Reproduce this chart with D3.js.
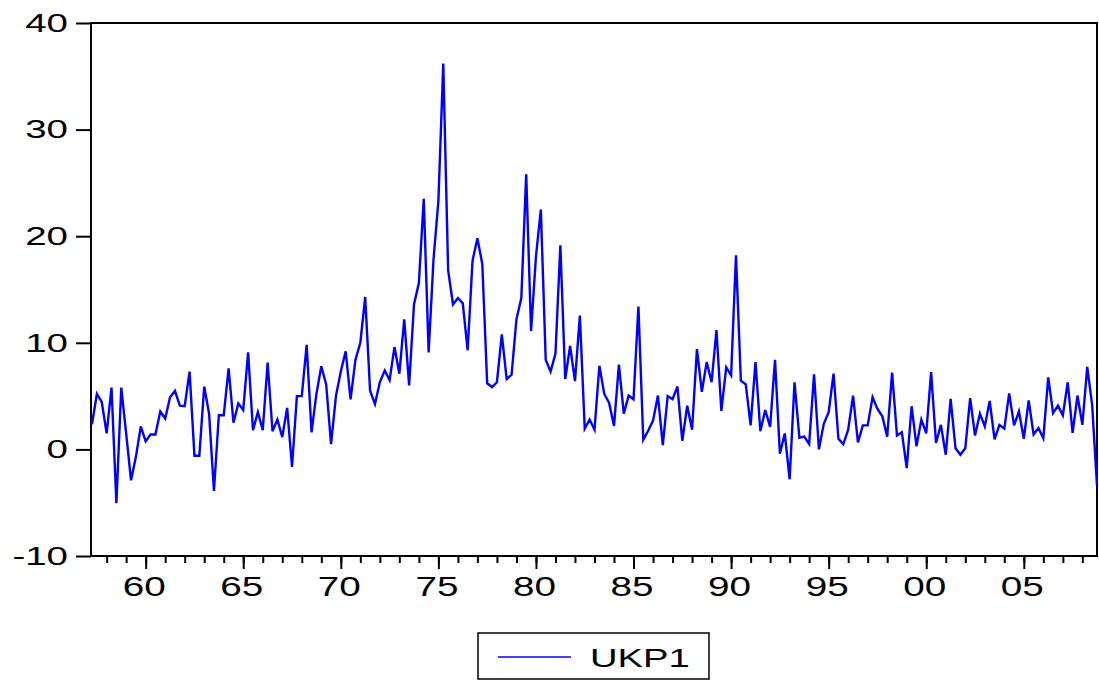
<!DOCTYPE html>
<html>
<head>
<meta charset="utf-8">
<script src="https://cdn.jsdelivr.net/npm/d3@7"></script>
<style>
    body { margin: 0; background: #fff; }
    svg text { font-family: "Liberation Sans", Arial, sans-serif; fill: #000; }
</style>
</head>
<body>
<div id="graph"></div>
<script>
// quarterly series, first observation 1957Q2
let seriesName = "UKP1";
let firstYear = 1957;
let firstQuarter = 2;

let ukp1 = [
    2.35, 5.2, 4.45, 1.5, 5.8, -5.05, 5.8, 1.5, -2.9, -0.7,
    2.15, 0.75, 1.4, 1.4, 3.55, 2.9, 4.9, 5.5, 4.1, 4.05,
    7.3, -0.6, -0.6, 5.9, 3.35, -3.9, 3.2, 3.2, 7.6, 2.5,
    4.3, 3.7, 9.1, 1.8, 3.5, 1.8, 8.15, 1.7, 2.8, 1.15,
    3.9, -1.65, 5.0, 5.0, 9.8, 1.6, 5.2, 7.8, 6.1, 0.5,
    5.0, 7.3, 9.2, 4.7, 8.4, 10.0, 14.3, 5.5, 4.25, 6.3,
    7.4, 6.5, 9.6, 7.1, 12.2, 6.0, 13.6, 15.6, 23.5, 9.1,
    17.8, 23.3, 36.2, 16.8, 13.6, 14.2, 13.7, 9.3, 17.7, 19.8,
    17.4, 6.2, 5.85, 6.3, 10.8, 6.6, 7.0, 12.2, 14.2, 25.8,
    11.1, 18.1, 22.5, 8.4, 7.3, 9.0, 19.15, 6.6, 9.7, 6.4,
    12.55, 1.95, 2.8, 1.85, 7.85, 5.2, 4.35, 2.2, 7.95, 3.35,
    5.05, 4.7, 13.4, 0.9, 1.75, 2.7, 5.05, 0.4, 5.0, 4.7,
    5.9, 0.8, 4.1, 1.85, 9.4, 5.4, 8.2, 6.3, 11.2, 3.6,
    7.7, 6.95, 18.2, 6.45, 6.1, 2.25, 8.2, 1.7, 3.7, 2.1,
    8.4, -0.4, 1.5, -2.8, 6.3, 1.1, 1.2, 0.5, 7.05, 0.0,
    2.4, 3.5, 7.1, 1.0, 0.5, 1.85, 5.05, 0.65, 2.25, 2.25,
    4.9, 3.8, 3.1, 1.2, 7.2, 1.3, 1.6, -1.75, 4.05, 0.3,
    2.8, 1.5, 7.25, 0.6, 2.3, -0.5, 4.75, 0.1, -0.5, 0.1,
    4.8, 1.3, 3.35, 2.15, 4.55, 0.95, 2.3, 1.95, 5.25, 2.25,
    3.55, 1.0, 4.6, 1.4, 2.0, 1.05, 6.75, 3.4, 4.1, 3.2,
    6.3, 1.55, 5.05, 2.3, 7.75, 4.2, -3.4
];

let yTickValues = [-10, 0, 10, 20, 30, 40];
let yTickLabels = ["-10", "0", "10", "20", "30", "40"];
let xTickYears = [1960, 1965, 1970, 1975, 1980, 1985, 1990, 1995, 2000, 2005];
let xTickLabels = ["60", "65", "70", "75", "80", "85", "90", "95", "00", "05"];

function drawGraph() {
    let svg = d3.select("#graph").append("svg")
        .attr("width", 1099)
        .attr("height", 682);

    let frame = {left: 91, right: 1097, top: 23, bottom: 556};

    let data = ukp1.map((v, i) => ({x: firstYear + (firstQuarter - 1 + i) / 4, y: v}));

    let x_scale = d3.scaleLinear()
        .domain(d3.extent(data, d => d.x))
        .range([92, frame.right]);

    let y_scale = d3.scaleLinear()
        .domain([-10, 40])
        .range([frame.bottom, frame.top]);

    // yearly minor ticks
    let minorYears = d3.range(Math.ceil(x_scale.domain()[0]), Math.floor(x_scale.domain()[1]) + 1);
    svg.append("g")
        .attr("transform", `translate(0,${frame.bottom})`)
        .call(d3.axisBottom(x_scale).tickValues(minorYears).tickSize(7).tickFormat(""));

    let majorAxis = svg.append("g")
        .attr("transform", `translate(0,${frame.bottom})`)
        .call(d3.axisBottom(x_scale)
            .tickValues(xTickYears)
            .tickSize(13)
            .tickPadding(7)
            .tickFormat((d, i) => xTickLabels[i]));
    majorAxis.selectAll("text")
        .attr("font-size", 28)
        .attr("transform", "translate(-2,0) scale(1.38,1)");

    let yAxis = svg.append("g")
        .attr("transform", `translate(${frame.left},0)`)
        .call(d3.axisLeft(y_scale)
            .tickValues(yTickValues)
            .tickSize(15)
            .tickFormat((d, i) => yTickLabels[i]));
    yAxis.selectAll("text")
        .attr("font-size", 26)
        .attr("x", -23 / 1.48)
        .attr("transform", "scale(1.48,1)");

    svg.selectAll(".domain").remove();
    svg.selectAll(".tick line")
        .attr("stroke", "#000")
        .attr("stroke-width", 2);

    svg.append("rect")
        .attr("x", frame.left)
        .attr("y", frame.top)
        .attr("width", frame.right - frame.left)
        .attr("height", frame.bottom - frame.top)
        .attr("fill", "none")
        .attr("stroke", "#000")
        .attr("stroke-width", 2);

    let valueLine = d3.line()
        .x(d => x_scale(d.x))
        .y(d => y_scale(d.y));

    svg.append("path")
        .datum(data)
        .attr("fill", "none")
        .attr("stroke", "#0000ff")
        .attr("stroke-width", 2.4)
        .attr("d", valueLine);

    // legend
    let legend = svg.append("g");
    legend.append("rect")
        .attr("x", 478)
        .attr("y", 633)
        .attr("width", 231)
        .attr("height", 46)
        .attr("fill", "#fff")
        .attr("stroke", "#000")
        .attr("stroke-width", 1.5);
    legend.append("line")
        .attr("x1", 498)
        .attr("x2", 571)
        .attr("y1", 657)
        .attr("y2", 657)
        .attr("stroke", "#0000ff")
        .attr("stroke-width", 1.6);
    legend.append("text")
        .attr("font-size", 26)
        .attr("transform", "translate(590,667) scale(1.47,1)")
        .text(seriesName);
}

drawGraph();
</script>
</body>
</html>
